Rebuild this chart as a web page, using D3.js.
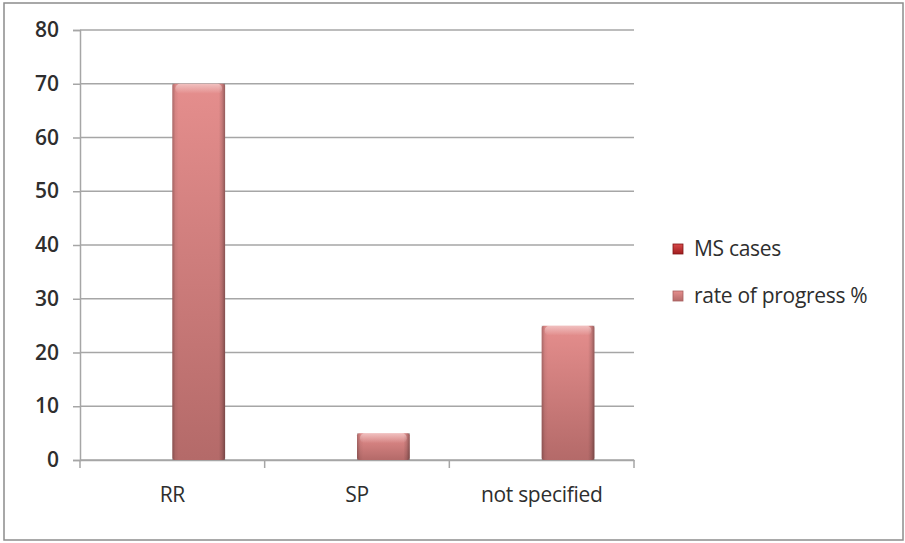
<!DOCTYPE html>
<html><head><meta charset="utf-8">
<script src="https://cdn.jsdelivr.net/npm/d3@7"></script>
<style>body{margin:0;background:#fff}svg{display:block}</style>
</head><body>
<script>
const categories = ["RR", "SP", "not specified"];
const seriesNames = ["MS cases", "rate of progress %"];
const msCases = [0, 0, 0];
const rateOfProgress = [70, 5, 25];
const yTicks = [0, 10, 20, 30, 40, 50, 60, 70, 80];

const W = 905, H = 543;
const svg = d3.select("body").append("svg").attr("width", W).attr("height", H);
const defs = svg.append("defs");

function barGrad(id, light, dark) {
  const g = defs.append("linearGradient").attr("id", id).attr("x1", 0).attr("y1", 0).attr("x2", 0).attr("y2", 1);
  g.append("stop").attr("offset", "0%").attr("stop-color", light);
  g.append("stop").attr("offset", "100%").attr("stop-color", dark);
}
barGrad("g0", "#d84a4a", "#a01c1e");
barGrad("g1", "#e58e8d", "#b46a69");
const side = defs.append("linearGradient").attr("id", "side").attr("x1", 0).attr("x2", 1).attr("y1", 0).attr("y2", 0);
[[0,"#000",0.25],[0.06,"#000",0.05],[0.12,"#000",0],[0.88,"#000",0],[0.94,"#000",0.12],[1,"#000",0.35]].forEach(s=>
  side.append("stop").attr("offset", s[0]).attr("stop-color", s[1]).attr("stop-opacity", s[2]));
const topg = defs.append("linearGradient").attr("id", "topg").attr("x1", 0).attr("x2", 0).attr("y1", 0).attr("y2", 1);
[[0,"#fff",0.45],[1,"#fff",0]].forEach(s=>topg.append("stop").attr("offset", s[0]).attr("stop-color", s[1]).attr("stop-opacity", s[2]));

svg.append("rect").attr("x", 4).attr("y", 3).attr("width", 899).attr("height", 537)
  .attr("fill", "#fff").attr("stroke", "#8c8c8c").attr("stroke-width", 1.5);

const x0 = 80, x1 = 634, yTop = 30, yBot = 460;
const x = d3.scaleBand().domain(categories).range([x0, x1]).paddingInner(0).paddingOuter(0);
const y = d3.scaleLinear().domain([0, 80]).range([yBot, yTop]);
const gw = x.bandwidth();
const xs = d3.scaleBand().domain(seriesNames).range([gw*0.75/3.5, gw - gw*0.75/3.5]);

const FONT = "'Open Sans', sans-serif";
const TXT = "#2e2e2e";

svg.append("g").selectAll("line").data(yTicks).join("line")
  .attr("x1", x0).attr("x2", x1).attr("y1", d=>y(d)).attr("y2", d=>y(d))
  .attr("stroke", "#a6a6a6").attr("stroke-width", 1.5);

const ya = svg.append("g").attr("transform", `translate(${x0},0)`)
  .call(d3.axisLeft(y).tickValues(yTicks).tickSize(7).tickPadding(14));
ya.select(".domain").attr("stroke", "#a6a6a6").attr("stroke-width", 1.5);
ya.selectAll(".tick line").attr("stroke", "#a6a6a6").attr("stroke-width", 1.5);
ya.selectAll("text").attr("font-family", FONT).attr("font-size", 21)
  .attr("font-weight", 600).attr("fill", TXT);

const xa = svg.append("g").attr("transform", `translate(0,${yBot})`)
  .call(d3.axisBottom(x).tickSize(0).tickPadding(27));
xa.select(".domain").attr("stroke", "#a6a6a6").attr("stroke-width", 1.5);
xa.selectAll("text").attr("font-family", FONT).attr("font-size", 21)
  .attr("fill", TXT).attr("font-weight", 500).attr("letter-spacing", -0.3);
const bounds = categories.map(c=>x(c)).concat([x1]);
svg.append("g").selectAll("line").data(bounds).join("line")
  .attr("x1", d=>d).attr("x2", d=>d).attr("y1", yBot).attr("y2", yBot+8)
  .attr("stroke", "#a6a6a6").attr("stroke-width", 1.5);

const data = [];
categories.forEach((c,i)=>{
  data.push({c, s: seriesNames[0], v: msCases[i], k: 0});
  data.push({c, s: seriesNames[1], v: rateOfProgress[i], k: 1});
});
const bars = svg.append("g").selectAll("g").data(data.filter(d=>d.v>0)).join("g")
  .attr("transform", d=>`translate(${x(d.c)+xs(d.s)},${y(d.v)})`);
bars.append("rect").attr("width", xs.bandwidth()).attr("height", d=>y(0)-y(d.v))
  .attr("fill", d=>`url(#g${d.k})`).attr("rx", 2);
bars.append("rect").attr("width", xs.bandwidth()).attr("height", d=>y(0)-y(d.v))
  .attr("fill", "url(#side)");
bars.append("rect").attr("x", 3).attr("width", xs.bandwidth()-6).attr("height", d=>Math.min(10, y(0)-y(d.v)))
  .attr("fill", "url(#topg)").attr("rx", 5);

const lg = svg.append("g").attr("transform", "translate(672,0)");
const lrows = lg.selectAll("g").data(seriesNames).join("g")
  .attr("transform", (d,i)=>`translate(0,${249 + i*47})`);
lrows.append("rect").attr("x", 1).attr("y", -5).attr("width", 10).attr("height", 10)
  .attr("fill", (d,i)=>`url(#g${i})`).attr("stroke", (d,i)=>i? "#a86060":"#801416").attr("stroke-width", 0.8);
lrows.append("text").attr("x", 22).attr("y", 0).attr("dy", "0.35em").text(d=>d)
  .attr("font-family", FONT).attr("font-size", 21).attr("fill", TXT).attr("font-weight", 500)
  .attr("letter-spacing", -0.3);
</script>
</body></html>
